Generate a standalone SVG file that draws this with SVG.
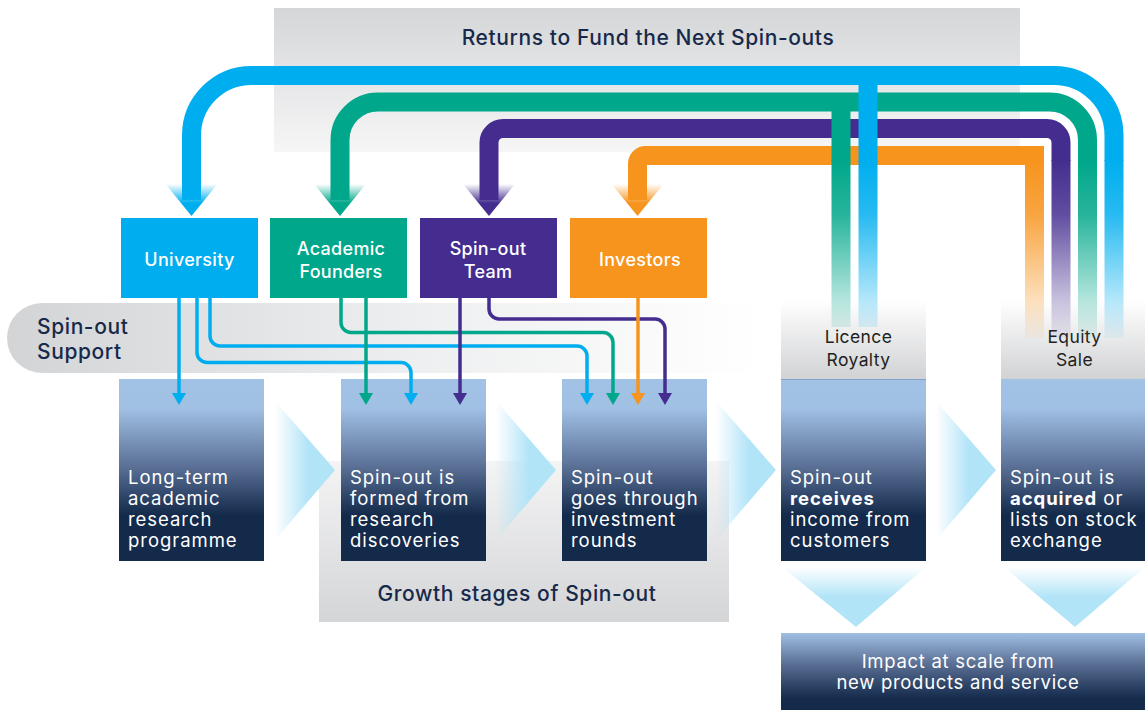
<svg xmlns="http://www.w3.org/2000/svg" width="1145" height="710" viewBox="0 0 1145 710">
  <defs>
    <style>
      text { font-family: Inter, "Liberation Sans", sans-serif; }
      .head { font-size: 21px; font-weight: 500; fill: #17294a; letter-spacing: 0.6px; }
      .node { font-size: 18px; font-weight: 500; fill: #ffffff; text-anchor: middle; letter-spacing: 0.3px; }
      .tag { font-size: 17.5px; font-weight: 400; fill: #231f20; text-anchor: middle; letter-spacing: 0.4px; }
      .stage { font-size: 18.5px; font-weight: 400; fill: #ffffff; letter-spacing: 0.95px; }
      .stage tspan.b { font-weight: 700; }
      .impact { font-size: 18.5px; font-weight: 400; fill: #ffffff; text-anchor: middle; letter-spacing: 0.7px; }
      .band { fill: none; stroke-width: 19; stroke-linejoin: miter; }
      .link { fill: none; stroke-width: 3.5; }
    </style>

    <!-- panel fills -->
    <linearGradient id="gReturns" x1="0" y1="0" x2="0" y2="1">
      <stop offset="0" stop-color="#d5d6d8"/>
      <stop offset="1" stop-color="#f6f6f7"/>
    </linearGradient>
    <linearGradient id="gSupport" gradientUnits="userSpaceOnUse" x1="7" y1="0" x2="760" y2="0">
      <stop offset="0" stop-color="#d3d4d6"/>
      <stop offset="0.55" stop-color="#eeeff0"/>
      <stop offset="1" stop-color="#ffffff"/>
    </linearGradient>
    <linearGradient id="gGrowth" x1="0" y1="0" x2="0" y2="1">
      <stop offset="0" stop-color="#f4f4f5"/>
      <stop offset="1" stop-color="#d4d5d7"/>
    </linearGradient>
    <linearGradient id="gTag" x1="0" y1="0" x2="0" y2="1">
      <stop offset="0" stop-color="#ffffff"/>
      <stop offset="1" stop-color="#d1d2d4"/>
    </linearGradient>
    <linearGradient id="gStage" x1="0" y1="0" x2="0" y2="1">
      <stop offset="0" stop-color="#a1c1e5"/>
      <stop offset="0.16" stop-color="#a0c0e4"/>
      <stop offset="0.48" stop-color="#5b7096"/>
      <stop offset="0.75" stop-color="#132a4b"/>
      <stop offset="1" stop-color="#132a4b"/>
    </linearGradient>
    <linearGradient id="gImpact" x1="0" y1="0" x2="0" y2="1">
      <stop offset="0" stop-color="#a0c0e4"/>
      <stop offset="0.4" stop-color="#5a6f94"/>
      <stop offset="0.85" stop-color="#142b4c"/>
      <stop offset="1" stop-color="#132a4b"/>
    </linearGradient>
    <linearGradient id="gChevR" x1="0" y1="0" x2="1" y2="0">
      <stop offset="0" stop-color="#b2e4f8" stop-opacity="0"/>
      <stop offset="0.55" stop-color="#b2e4f8" stop-opacity="1"/>
      <stop offset="1" stop-color="#b2e4f8"/>
    </linearGradient>
    <linearGradient id="gChevD" x1="0" y1="0" x2="0" y2="1">
      <stop offset="0" stop-color="#b2e4f8" stop-opacity="0"/>
      <stop offset="0.5" stop-color="#b2e4f8" stop-opacity="1"/>
      <stop offset="1" stop-color="#b2e4f8"/>
    </linearGradient>

    <!-- fading return stems -->
    <linearGradient id="fadeBlue" gradientUnits="userSpaceOnUse" x1="0" y1="160" x2="0" y2="340">
      <stop offset="0" stop-color="#00aeef"/>
      <stop offset="0.3" stop-color="#00aeef" stop-opacity="0.85"/>
      <stop offset="1" stop-color="#00aeef" stop-opacity="0.04"/>
    </linearGradient>
    <linearGradient id="fadeGreen" gradientUnits="userSpaceOnUse" x1="0" y1="160" x2="0" y2="340">
      <stop offset="0" stop-color="#00a78a"/>
      <stop offset="0.3" stop-color="#00a78a" stop-opacity="0.85"/>
      <stop offset="1" stop-color="#00a78a" stop-opacity="0.04"/>
    </linearGradient>
    <linearGradient id="fadePurple" gradientUnits="userSpaceOnUse" x1="0" y1="160" x2="0" y2="340">
      <stop offset="0" stop-color="#452d8f"/>
      <stop offset="0.3" stop-color="#452d8f" stop-opacity="0.85"/>
      <stop offset="1" stop-color="#452d8f" stop-opacity="0.04"/>
    </linearGradient>
    <linearGradient id="fadeOrange" gradientUnits="userSpaceOnUse" x1="0" y1="160" x2="0" y2="340">
      <stop offset="0" stop-color="#f7941e"/>
      <stop offset="0.3" stop-color="#f7941e" stop-opacity="0.85"/>
      <stop offset="1" stop-color="#f7941e" stop-opacity="0.04"/>
    </linearGradient>

    <!-- big arrowheads, fading in from the top -->
    <linearGradient id="headBlue" x1="0" y1="0" x2="0" y2="1">
      <stop offset="0" stop-color="#00aeef" stop-opacity="0"/>
      <stop offset="0.6" stop-color="#00aeef"/>
    </linearGradient>
    <linearGradient id="headGreen" x1="0" y1="0" x2="0" y2="1">
      <stop offset="0" stop-color="#00a78a" stop-opacity="0"/>
      <stop offset="0.6" stop-color="#00a78a"/>
    </linearGradient>
    <linearGradient id="headPurple" x1="0" y1="0" x2="0" y2="1">
      <stop offset="0" stop-color="#452d8f" stop-opacity="0"/>
      <stop offset="0.6" stop-color="#452d8f"/>
    </linearGradient>
    <linearGradient id="headOrange" x1="0" y1="0" x2="0" y2="1">
      <stop offset="0" stop-color="#f7941e" stop-opacity="0"/>
      <stop offset="0.6" stop-color="#f7941e"/>
    </linearGradient>

    <!-- small arrowheads for the support links -->
    <marker id="mBlue" viewBox="0 0 12 14" refX="0" refY="7" markerWidth="12" markerHeight="14" markerUnits="userSpaceOnUse" orient="auto">
      <path d="M0,0 L12,7 L0,14 z" fill="#00aeef"/>
    </marker>
    <marker id="mGreen" viewBox="0 0 12 14" refX="0" refY="7" markerWidth="12" markerHeight="14" markerUnits="userSpaceOnUse" orient="auto">
      <path d="M0,0 L12,7 L0,14 z" fill="#00a78a"/>
    </marker>
    <marker id="mPurple" viewBox="0 0 12 14" refX="0" refY="7" markerWidth="12" markerHeight="14" markerUnits="userSpaceOnUse" orient="auto">
      <path d="M0,0 L12,7 L0,14 z" fill="#452d8f"/>
    </marker>
    <marker id="mOrange" viewBox="0 0 12 14" refX="0" refY="7" markerWidth="12" markerHeight="14" markerUnits="userSpaceOnUse" orient="auto">
      <path d="M0,0 L12,7 L0,14 z" fill="#f7941e"/>
    </marker>
  </defs>

  <rect width="1145" height="710" fill="#ffffff"/>

  <!-- background panels -->
  <g id="returns-panel">
    <rect x="274" y="8" width="746" height="144" fill="url(#gReturns)"/>
    <text class="head" x="648" y="45" text-anchor="middle">Returns to Fund the Next Spin-outs</text>
  </g>
  <g id="support-panel">
    <path d="M42,303 H760 V373 H42 A35,35 0 0 1 42,303 z" fill="url(#gSupport)"/>
    <text class="head" x="37" y="334">Spin-out</text>
    <text class="head" x="37" y="359">Support</text>
  </g>
  <g id="growth-panel">
    <rect x="319" y="461" width="410" height="161" fill="url(#gGrowth)"/>
    <text class="head" x="517" y="601" text-anchor="middle">Growth stages of Spin-out</text>
  </g>

  <!-- return labels -->
  <g id="licence-royalty">
    <rect x="781" y="300" width="145" height="79" fill="url(#gTag)"/>
    <text class="tag" x="858.5" y="343">Licence</text>
    <text class="tag" x="858.5" y="366">Royalty</text>
  </g>
  <g id="equity-sale">
    <rect x="1001" y="300" width="144" height="79" fill="url(#gTag)"/>
    <text class="tag" x="1074.5" y="343">Equity</text>
    <text class="tag" x="1074.5" y="366">Sale</text>
  </g>

  <!-- stage-to-stage chevrons -->
  <g id="chevrons">
    <polygon points="275,401 335,470 275,540" fill="url(#gChevR)"/>
    <polygon points="496,401 556,470 496,540" fill="url(#gChevR)"/>
    <polygon points="716,401 776,470 716,540" fill="url(#gChevR)"/>
    <polygon points="936,401 996,470 936,540" fill="url(#gChevR)"/>
    <polygon points="782,567 926,567 856,627" fill="url(#gChevD)"/>
    <polygon points="1004,567 1145,567 1075,627" fill="url(#gChevD)"/>
  </g>

  <!-- growth stages -->
  <g id="stage-research">
    <rect x="119" y="379" width="145" height="182" fill="url(#gStage)"/>
    <text class="stage"><tspan x="128" y="484">Long-term</tspan><tspan x="128" y="505">academic</tspan><tspan x="128" y="526">research</tspan><tspan x="128" y="547">programme</tspan></text>
  </g>
  <g id="stage-formed">
    <rect x="341" y="379" width="145" height="182" fill="url(#gStage)"/>
    <text class="stage"><tspan x="350" y="484">Spin-out is</tspan><tspan x="350" y="505">formed from</tspan><tspan x="350" y="526">research</tspan><tspan x="350" y="547">discoveries</tspan></text>
  </g>
  <g id="stage-investment">
    <rect x="562" y="379" width="145" height="182" fill="url(#gStage)"/>
    <text class="stage"><tspan x="571" y="484">Spin-out</tspan><tspan x="571" y="505">goes through</tspan><tspan x="571" y="526">investment</tspan><tspan x="571" y="547">rounds</tspan></text>
  </g>
  <g id="stage-income">
    <rect x="781" y="379" width="145" height="182" fill="url(#gStage)"/>
    <line x1="781" y1="379.5" x2="926" y2="379.5" stroke="#86a2c8" stroke-width="1"/>
    <text class="stage"><tspan x="790" y="484">Spin-out</tspan><tspan x="790" y="505" class="b">receives</tspan><tspan x="790" y="526">income from</tspan><tspan x="790" y="547">customers</tspan></text>
  </g>
  <g id="stage-exit">
    <rect x="1001" y="379" width="144" height="182" fill="url(#gStage)"/>
    <text class="stage"><tspan x="1010" y="484">Spin-out is</tspan><tspan x="1010" y="505"><tspan class="b">acquired</tspan> or</tspan><tspan x="1010" y="526">lists on stock</tspan><tspan x="1010" y="547">exchange</tspan></text>
  </g>

  <g id="impact">
    <rect x="781" y="633" width="364" height="77" fill="url(#gImpact)"/>
    <text class="impact" x="958" y="668">Impact at scale from</text>
    <text class="impact" x="958" y="689">new products and service</text>
  </g>

  <g id="connectors">
    <!-- return loops back to the stakeholders -->
    <g id="returns-loops">
      <path class="band" stroke="#00aeef" d="M191.5,200 V135.5 A60,60 0 0 1 251.5,75.5 H1054 A60,60 0 0 1 1114,135.5 V161"/>
      <rect x="1104.5" y="160" width="19" height="178" fill="url(#fadeBlue)"/>

      <path class="band" stroke="#00a78a" d="M340,200 V140 A38,38 0 0 1 378,102 H1049.5 A38,38 0 0 1 1087.5,140 V161"/>
      <rect x="1078" y="160" width="19" height="178" fill="url(#fadeGreen)"/>

      <path class="band" stroke="#452d8f" d="M489,200 V142.5 A14,14 0 0 1 503,128.5 H1047 A14,14 0 0 1 1061,142.5 V161"/>
      <rect x="1051.5" y="160" width="19" height="178" fill="url(#fadePurple)"/>

      <path class="band" stroke="#f7941e" d="M637.5,200 V163.5 A8,8 0 0 1 645.5,155.5 H1034.5 V161"/>
      <rect x="1025" y="160" width="19" height="178" fill="url(#fadeOrange)"/>

      <!-- licence royalty feeds -->
      <rect x="831.5" y="111" width="19" height="50" fill="#00a78a"/>
      <rect x="831.5" y="160" width="19" height="167" fill="url(#fadeGreen)"/>
      <rect x="858.5" y="85" width="19" height="76" fill="#00aeef"/>
      <rect x="858.5" y="160" width="19" height="167" fill="url(#fadeBlue)"/>

      <!-- arrowheads -->
      <polygon points="165.5,184 217.5,184 191.5,216" fill="url(#headBlue)"/>
      <polygon points="314,184 366,184 340,216" fill="url(#headGreen)"/>
      <polygon points="463,184 515,184 489,216" fill="url(#headPurple)"/>
      <polygon points="611.5,184 663.5,184 637.5,216" fill="url(#headOrange)"/>
    </g>

    <!-- support links into the growth stages -->
    <g id="support-links">
      <path class="link" stroke="#00aeef" marker-end="url(#mBlue)" d="M179,298 V393"/>
      <path class="link" stroke="#00aeef" marker-end="url(#mBlue)" d="M197,298 V352.5 A10,10 0 0 0 207,362.5 H401 A10,10 0 0 1 411,372.5 V393"/>
      <path class="link" stroke="#00aeef" marker-end="url(#mBlue)" d="M210,298 V336 A10,10 0 0 0 220,346 H577 A10,10 0 0 1 587,356 V393"/>

      <path class="link" stroke="#00a78a" marker-end="url(#mGreen)" d="M366,298 V393"/>
      <path class="link" stroke="#00a78a" marker-end="url(#mGreen)" d="M341,298 V322.5 A10,10 0 0 0 351,332.5 H603 A10,10 0 0 1 613,342.5 V393"/>

      <path class="link" stroke="#452d8f" marker-end="url(#mPurple)" d="M460,298 V393"/>
      <path class="link" stroke="#452d8f" marker-end="url(#mPurple)" d="M489,298 V309 A10,10 0 0 0 499,319 H655 A10,10 0 0 1 665,329 V393"/>

      <path class="link" stroke="#f7941e" marker-end="url(#mOrange)" d="M638,298 V393"/>
    </g>
  </g>

  <!-- stakeholders -->
  <g id="university">
    <rect x="121" y="218" width="137" height="80" fill="#00aeef"/>
    <text class="node" x="189.5" y="266">University</text>
  </g>
  <g id="academic-founders">
    <rect x="270" y="218" width="137" height="80" fill="#00a78a"/>
    <text class="node" x="341" y="255">Academic</text>
    <text class="node" x="341" y="278">Founders</text>
  </g>
  <g id="spin-out-team">
    <rect x="420" y="218" width="137" height="80" fill="#452d8f"/>
    <text class="node" x="488" y="255">Spin-out</text>
    <text class="node" x="488" y="278">Team</text>
  </g>
  <g id="investors">
    <rect x="570" y="218" width="137" height="80" fill="#f7941e"/>
    <text class="node" x="640" y="266">Investors</text>
  </g>
</svg>
